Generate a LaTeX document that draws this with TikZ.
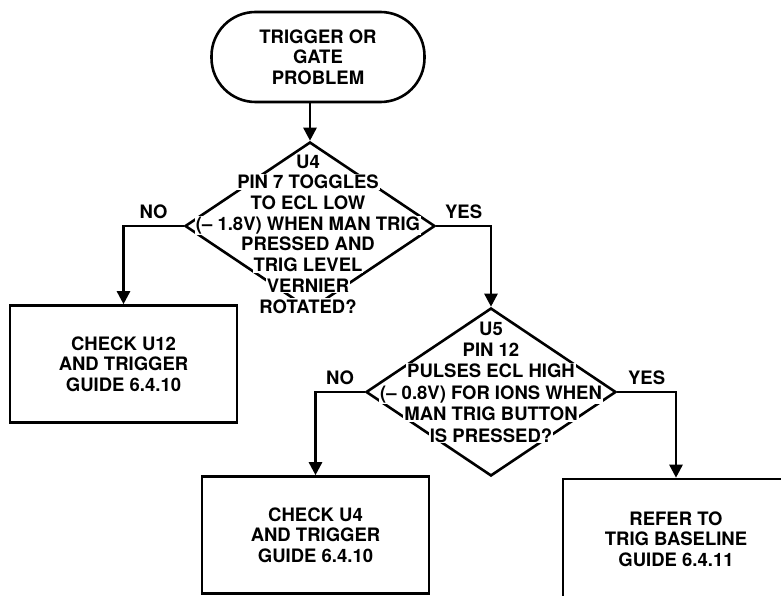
\documentclass[tikz,border=0pt]{standalone}
\usepackage{fontspec}
\setmainfont{TeX Gyre Heros}
\usetikzlibrary{shapes.geometric,arrows.meta}
\newcommand{\wl}[1]{{\setlength{\fboxsep}{1pt}\colorbox{white}{#1}}}
\begin{document}
\begin{tikzpicture}[x=1pt,y=-1pt,
  lw/.style={line width=2.6pt},
  txt/.style={font=\fontsize{18.5}{20.5}\selectfont\bfseries, align=center},
  box/.style={draw, lw, txt, rectangle, minimum width=227pt, minimum height=117pt, inner sep=0pt},
  dec/.style={draw, lw, diamond, minimum width=250pt, minimum height=168pt, inner sep=0pt},
  term/.style={draw, lw, txt, rectangle, rounded corners=44pt, minimum width=213pt, minimum height=90pt},
  arr/.style={lw, -{Triangle[length=13pt,width=13pt]}},
  lab/.style={txt, above=3pt}]
\useasboundingbox (0,0) rectangle (781,596);
\clip (0,0) rectangle (781,596);
\fill[white] (0,0) rectangle (781,596);
% start
\node[term] (t) at (318,57) {TRIGGER OR\\GATE\\PROBLEM};
% decision 1
\node[dec] (d1) at (310,226) {};
\node[txt, font=\fontsize{18.5}{20.7}\selectfont\bfseries] (d1t) at (308,234)
  {\wl{U4}\\ \wl{PIN 7 TOGGLES}\\ \wl{TO ECL LOW}\\ \wl{(– 1.8V) WHEN MAN TRIG}\\
   \wl{PRESSED AND}\\ \wl{TRIG LEVEL}\\ \wl{VERNIER}\\ \wl{ROTATED?}};
% decision 2
\node[dec] (d2) at (491,392) {};
\node[txt, font=\fontsize{18.5}{21.4}\selectfont\bfseries] (d2t) at (491,382)
  {\wl{U5}\\ \wl{PIN 12}\\ \wl{PULSES ECL HIGH}\\ \wl{(– 0.8V) FOR IONS WHEN}\\
   \wl{MAN TRIG BUTTON}\\ \wl{IS PRESSED?}};
% boxes
\node[box] (b1) at (123.5,364) {CHECK U12\\AND TRIGGER\\GUIDE 6.4.10};
\node[box] (b2) at (315.5,535) {CHECK U4\\AND TRIGGER\\GUIDE 6.4.10};
\node[box, minimum width=226pt, minimum height=120pt] (b3) at (676,539) {REFER TO\\TRIG BASELINE\\GUIDE 6.4.11};
% connectors
\draw[arr] (t.south -| d1.north) -- (d1.north);
\draw[arr] (d1.west) -| node[lab, pos=0.25] {NO} (b1.north);
\draw[arr] (d1.east) -| node[lab, pos=0.25] {YES} (d2.north);
\draw[arr] (d2.west) -| node[lab, pos=0.25] {NO} (b2.north);
\draw[arr] (d2.east) -| node[lab, pos=0.25] {YES} (b3.north);
\end{tikzpicture}
\end{document}
